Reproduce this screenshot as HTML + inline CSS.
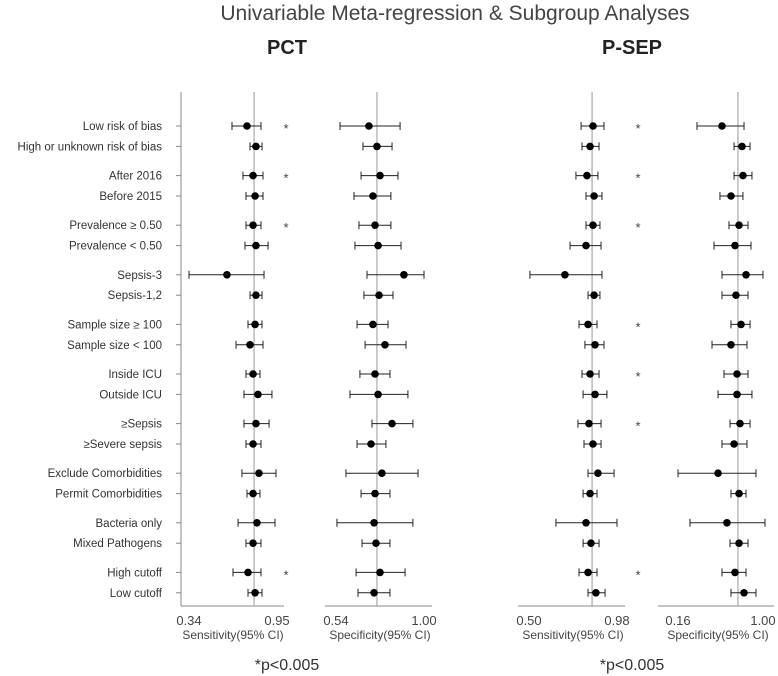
<!DOCTYPE html>
<html><head><meta charset="utf-8">
<style>
html,body{margin:0;padding:0;background:#fff;}
svg{display:block;font-family:"Liberation Sans",Arial,sans-serif;}
</style></head>
<body>
<svg id="chart" width="778" height="676">
<text x="455" y="20" text-anchor="middle" font-size="21" fill="#444">Univariable Meta-regression &amp; Subgroup Analyses</text>
<text x="287" y="54" text-anchor="middle" font-size="20" font-weight="bold" fill="#222">PCT</text>
<text x="632" y="54" text-anchor="middle" font-size="20" font-weight="bold" fill="#222">P-SEP</text>
<text x="287" y="670" text-anchor="middle" font-size="16" fill="#333">*p&lt;0.005</text>
<text x="632" y="670" text-anchor="middle" font-size="16" fill="#333">*p&lt;0.005</text>
<line x1="181" y1="92" x2="181" y2="606" stroke="#888" stroke-width="1"/>
<g id="plots"></g>
</svg>
<script>
const categories=["Low risk of bias","High or unknown risk of bias","After 2016","Before 2015","Prevalence ≥ 0.50","Prevalence < 0.50","Sepsis-3","Sepsis-1,2","Sample size ≥ 100","Sample size < 100","Inside ICU","Outside ICU","≥Sepsis","≥Severe sepsis","Exclude Comorbidities","Permit Comorbidities","Bacteria only","Mixed Pathogens","High cutoff","Low cutoff"];
const pctSensEst=[0.742,0.804,0.784,0.798,0.784,0.804,0.603,0.804,0.798,0.763,0.784,0.818,0.804,0.784,0.825,0.784,0.811,0.784,0.749,0.798];
const pctSensLo=[0.638,0.763,0.714,0.735,0.735,0.728,0.340,0.763,0.749,0.666,0.735,0.721,0.721,0.735,0.707,0.742,0.680,0.735,0.645,0.749];
const pctSensHi=[0.839,0.846,0.853,0.853,0.839,0.888,0.860,0.846,0.846,0.853,0.832,0.915,0.895,0.839,0.943,0.832,0.936,0.839,0.839,0.846];
const pctSpecEst=[0.712,0.754,0.770,0.733,0.744,0.760,0.895,0.765,0.733,0.796,0.744,0.760,0.833,0.723,0.780,0.744,0.739,0.749,0.770,0.739];
const pctSpecLo=[0.561,0.681,0.671,0.634,0.660,0.639,0.702,0.686,0.650,0.692,0.665,0.613,0.728,0.650,0.592,0.671,0.545,0.676,0.645,0.655];
const pctSpecHi=[0.875,0.833,0.864,0.827,0.827,0.880,1.000,0.838,0.812,0.906,0.822,0.916,0.942,0.801,0.969,0.822,0.942,0.822,0.901,0.822];
const psepSensEst=[0.849,0.833,0.816,0.855,0.849,0.811,0.696,0.855,0.822,0.860,0.833,0.860,0.827,0.849,0.876,0.833,0.811,0.838,0.822,0.865];
const psepSensLo=[0.784,0.789,0.756,0.811,0.811,0.724,0.505,0.822,0.773,0.805,0.789,0.795,0.767,0.800,0.822,0.795,0.647,0.795,0.773,0.822];
const psepSensHi=[0.909,0.882,0.876,0.898,0.887,0.893,0.898,0.887,0.871,0.909,0.882,0.925,0.893,0.893,0.964,0.871,0.980,0.882,0.871,0.915];
const psepSpecEst=[0.575,0.764,0.773,0.660,0.736,0.698,0.802,0.707,0.755,0.660,0.717,0.717,0.745,0.689,0.538,0.736,0.622,0.736,0.698,0.783];
const psepSpecLo=[0.339,0.689,0.689,0.556,0.641,0.500,0.575,0.575,0.660,0.481,0.594,0.538,0.651,0.575,0.160,0.660,0.273,0.651,0.575,0.660];
const psepSpecHi=[0.783,0.840,0.858,0.773,0.821,0.849,0.962,0.821,0.840,0.811,0.821,0.858,0.840,0.811,0.896,0.802,0.981,0.821,0.802,0.896];
const refValues=[0.791,0.754,0.844,0.726];
const pctStars=[0,2,4,18];
const psepStars=[0,2,4,8,10,12,18];
const tickLabels=[["0.34","0.95"],["0.54","1.00"],["0.50","0.98"],["0.16","1.00"]];
const tickValues=[[0.34,0.95],[0.54,1.00],[0.50,0.98],[0.16,1.00]];

const NS="http://www.w3.org/2000/svg";
const g=document.getElementById('plots');
function el(t,a,parent){const e=document.createElementNS(NS,t);for(const k in a)e.setAttribute(k,a[k]);(parent||g).appendChild(e);return e;}
function yRow(i){return 126+Math.floor(i/2)*49.6+(i%2)*20.4;}
const panels=[
 {name:"pct-sensitivity",x0:181,x1:284,px0:189,px1:277,est:pctSensEst,lo:pctSensLo,hi:pctSensHi,title:"Sensitivity(95% CI)"},
 {name:"pct-specificity",x0:325,x1:432,px0:336,px1:424,est:pctSpecEst,lo:pctSpecLo,hi:pctSpecHi,title:"Specificity(95% CI)"},
 {name:"psep-sensitivity",x0:518,x1:625,px0:529,px1:617,est:psepSensEst,lo:psepSensLo,hi:psepSensHi,title:"Sensitivity(95% CI)"},
 {name:"psep-specificity",x0:658,x1:774,px0:678,px1:767,est:psepSpecEst,lo:psepSpecLo,hi:psepSpecHi,title:"Specificity(95% CI)"}
];
categories.forEach((c,i)=>{
 const t=el('text',{x:162,y:yRow(i)+4,'text-anchor':'end','font-size':11.5,fill:'#333'});
 t.textContent=c;
 
 
 const tk=el('line',{x1:176,y1:yRow(i),x2:181,y2:yRow(i),stroke:'#888'});
 
 
});
panels.forEach((p,pi)=>{
 const d0=tickValues[pi][0],d1=tickValues[pi][1];
 const sx=v=>p.px0+(v-d0)/(d1-d0)*(p.px1-p.px0);
 const pg=el('g',{});
 
 
 const bx=el('line',{x1:p.x0,y1:606,x2:p.x1,y2:606,stroke:'#888','stroke-width':1},pg);
 
 
 const rx=sx(refValues[pi]);
 const rl=el('line',{x1:rx,y1:92,x2:rx,y2:606,stroke:'#999','stroke-width':1},pg);
 
 
 tickValues[pi].forEach((tv,k)=>{
  const x=Math.min(sx(tv),763);
  const tl=el('text',{x:x,y:625,'text-anchor':'middle','font-size':13,fill:'#444'},pg);
  tl.textContent=tickLabels[pi][k];
  
  
 });
 const at=el('text',{x:Math.min((sx(d0)+sx(d1))/2,718),y:639,'text-anchor':'middle','font-size':12,fill:'#444'},pg);
 at.textContent=p.title;
 
 
 p.est.forEach((v,i)=>{
  const y=yRow(i),a=sx(p.lo[i]),b=sx(p.hi[i]);
  const ci=el('path',{d:`M${a},${y}H${b}M${a},${y-4}V${y+4}M${b},${y-4}V${y+4}`,stroke:'#222','stroke-width':1,fill:'none'},pg);
  
  
  const pt=el('circle',{cx:sx(v),cy:y,r:3.8,fill:'#000'},pg);
  
  
 });
});
[[pctStars,286],[psepStars,638]].forEach(([arr,x])=>{
 arr.forEach(i=>{
  const s=el('text',{x:x,y:yRow(i)+7,'text-anchor':'middle','font-size':13,fill:'#444'});
  s.textContent='*';
  
  
 });
});
</script>
</body></html>
